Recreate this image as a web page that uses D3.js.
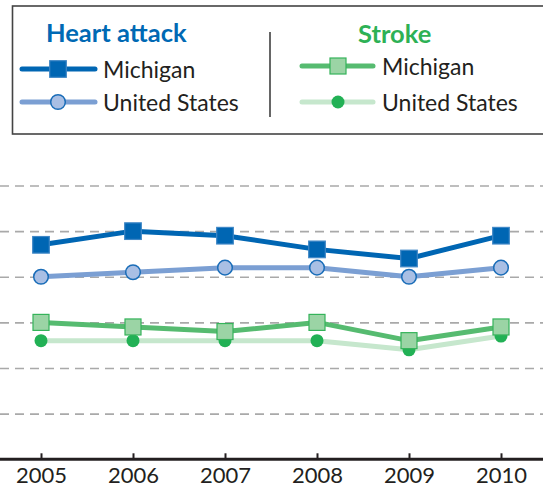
<!DOCTYPE html>
<html>
<head>
<meta charset="utf-8">
<script src="https://d3js.org/d3.v7.min.js"></script>
<style>
  body { margin: 0; background: #fff; }
  svg { display: block; font-family: Lato, "Open Sans", sans-serif; }
</style>
</head>
<body>
<svg width="543" height="487"></svg>
<script>
// data (percent of adults)
var years = [2005, 2006, 2007, 2008, 2009, 2010];
var heartMichigan = [4.7, 5.0, 4.9, 4.6, 4.4, 4.9];
var heartUS = [4.0, 4.1, 4.2, 4.2, 4.0, 4.2];
var strokeMichigan = [3.0, 2.9, 2.8, 3.0, 2.6, 2.9];
var strokeUS = [2.6, 2.6, 2.6, 2.6, 2.4, 2.7];
var gridValues = [1, 2, 3, 4, 5, 6];

var svg = d3.select("svg"),
    width = +svg.attr("width");

var x = d3.scalePoint()
    .domain(years)
    .range([-5, 547])
    .padding(0.5);

var y = d3.scaleLinear()
    .domain([0, 6])
    .range([459.3, 185.5]);

// dashed gridlines
var grid = svg.append("g")
    .attr("class", "grid")
    .call(d3.axisLeft(y).tickValues(gridValues).tickSize(-width).tickFormat(""));
grid.select(".domain").remove();
grid.selectAll("line")
    .attr("stroke", "#a9a9a9")
    .attr("stroke-width", 1.6)
    .attr("stroke-dasharray", "9,6");

// x axis
var xAxis = svg.append("g")
    .attr("transform", "translate(0," + y(0) + ")")
    .call(d3.axisBottom(x).tickSize(-6).tickPadding(8).tickSizeOuter(0));
xAxis.select(".domain")
    .attr("d", "M0,0H" + width)
    .attr("stroke", "#231f20")
    .attr("stroke-width", 3);
xAxis.selectAll(".tick line")
    .attr("stroke", "#231f20")
    .attr("stroke-width", 2);
xAxis.selectAll(".tick text")
    .attr("fill", "#231f20")
    .style("font-size", "22px")
    .style("font-family", "Lato, 'Open Sans', sans-serif");

var series = [
    { name: "strokeUS", values: strokeUS, line: "#c6e7cd", shape: "circle", r: 6.5, fill: "#22b155", stroke: "none" },
    { name: "strokeMI", values: strokeMichigan, line: "#56bb70", shape: "square", r: 8, fill: "#9bd4a5", stroke: "#35b35a" },
    { name: "heartUS", values: heartUS, line: "#7b9fd3", shape: "circle", r: 7.3, fill: "#a9bfe4", stroke: "#1a6db8" },
    { name: "heartMI", values: heartMichigan, line: "#0066b3", shape: "square", r: 8.3, fill: "#0066b3", stroke: "#3f87c6" }
];

var line = d3.line()
    .x(function(d, i) { return x(years[i]); })
    .y(function(d) { return y(d); });

function drawMarker(sel, s) {
    if (s.shape === "square") {
        sel.append("rect")
            .attr("x", -s.r).attr("y", -s.r)
            .attr("width", s.r * 2).attr("height", s.r * 2)
            .attr("fill", s.fill)
            .attr("stroke", s.stroke)
            .attr("stroke-width", 1.2);
    } else {
        sel.append("circle")
            .attr("r", s.r)
            .attr("fill", s.fill)
            .attr("stroke", s.stroke)
            .attr("stroke-width", 1.5);
    }
}

series.forEach(function(s) {
    var g = svg.append("g").attr("class", s.name);
    g.append("path")
        .attr("d", line(s.values))
        .attr("fill", "none")
        .attr("stroke", s.line)
        .attr("stroke-width", 5)
        .attr("stroke-linejoin", "round");
    g.selectAll("g.pt")
        .data(s.values)
        .enter().append("g")
        .attr("class", "pt")
        .attr("transform", function(d, i) { return "translate(" + x(years[i]) + "," + y(d) + ")"; })
        .each(function() { drawMarker(d3.select(this), s); });
});

// legend
var legend = svg.append("g").attr("class", "legend");
legend.append("rect")
    .attr("x", 12.5).attr("y", 6)
    .attr("width", 545).attr("height", 128)
    .attr("fill", "#fff")
    .attr("stroke", "#444")
    .attr("stroke-width", 1.6);
legend.append("line")
    .attr("x1", 270).attr("x2", 270)
    .attr("y1", 32).attr("y2", 117)
    .attr("stroke", "#333")
    .attr("stroke-width", 1.5);

var groups = [
    { title: "Heart attack", color: "#0069b4", tx: 46, ty: 42, lx0: 22, lx1: 95, mx: 58, textX: 103,
      items: [{ label: "Michigan", s: series[3], ly: 69, by: 78 }, { label: "United States", s: series[2], ly: 102, by: 111 }] },
    { title: "Stroke", color: "#2db155", tx: 358, ty: 43, lx0: 302, lx1: 373, mx: 338, textX: 382,
      items: [{ label: "Michigan", s: series[1], ly: 66, by: 75 }, { label: "United States", s: series[0], ly: 102, by: 111 }] }
];

groups.forEach(function(gr) {
    legend.append("text")
        .attr("x", gr.tx).attr("y", gr.ty)
        .attr("fill", gr.color)
        .style("font-size", "25.5px")
        .style("font-weight", "bold")
        .text(gr.title);
    gr.items.forEach(function(it) {
        legend.append("line")
            .attr("x1", gr.lx0).attr("x2", gr.lx1)
            .attr("y1", it.ly).attr("y2", it.ly)
            .attr("stroke", it.s.line)
            .attr("stroke-width", 5)
            .attr("stroke-linecap", "round");
        var m = legend.append("g").attr("transform", "translate(" + gr.mx + "," + it.ly + ")");
        drawMarker(m, it.s);
        legend.append("text")
            .attr("x", gr.textX).attr("y", it.by)
            .attr("fill", "#231f20")
            .style("font-size", "23px")
            .text(it.label);
    });
});
</script>
</body>
</html>
